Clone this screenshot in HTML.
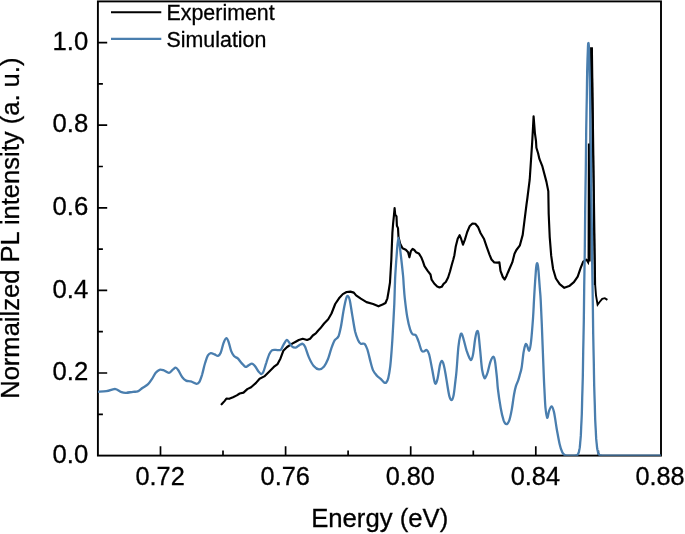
<!DOCTYPE html>
<html><head><meta charset="utf-8"><title>PL spectrum</title>
<style>
html,body{margin:0;padding:0;background:#fff;}
body{width:685px;height:534px;overflow:hidden;}
svg{display:block;}
text{font-family:"Liberation Sans",Arial,sans-serif;fill:#000;stroke:#000;stroke-width:0.3px;}
</style></head><body>
<svg width="685" height="534" viewBox="0 0 685 534">
<rect width="685" height="534" fill="#fff"/>
<rect x="97.9" y="1.4" width="563.1" height="454.2" fill="none" stroke="#000" stroke-width="1.9"/>
<path d="M160.5,455.6 v-9.3 M223.0,455.6 v-5.0 M285.6,455.6 v-9.3 M348.1,455.6 v-5.0 M410.7,455.6 v-9.3 M473.3,455.6 v-5.0 M535.8,455.6 v-9.3 M598.4,455.6 v-5.0 M97.9,414.3 h5.0 M97.9,373.0 h9.3 M97.9,331.7 h5.0 M97.9,290.4 h9.3 M97.9,249.1 h5.0 M97.9,207.8 h9.3 M97.9,166.5 h5.0 M97.9,125.2 h9.3 M97.9,83.9 h5.0 M97.9,42.6 h9.3" stroke="#000" stroke-width="1.7" fill="none"/>
<text transform="translate(160.1,485.2) scale(1,1.0)" font-size="25.3" text-anchor="middle">0.72</text>
<text transform="translate(285.2,485.2) scale(1,1.0)" font-size="25.3" text-anchor="middle">0.76</text>
<text transform="translate(410.3,485.2) scale(1,1.0)" font-size="25.3" text-anchor="middle">0.80</text>
<text transform="translate(535.4,485.2) scale(1,1.0)" font-size="25.3" text-anchor="middle">0.84</text>
<text transform="translate(660.0,485.2) scale(1,1.0)" font-size="25.3" text-anchor="middle">0.88</text>
<text transform="translate(88.3,462.7) scale(1,1.0)" font-size="25.7" text-anchor="end">0.0</text>
<text transform="translate(88.3,380.1) scale(1,1.0)" font-size="25.7" text-anchor="end">0.2</text>
<text transform="translate(88.3,297.5) scale(1,1.0)" font-size="25.7" text-anchor="end">0.4</text>
<text transform="translate(88.3,214.9) scale(1,1.0)" font-size="25.7" text-anchor="end">0.6</text>
<text transform="translate(88.3,132.3) scale(1,1.0)" font-size="25.7" text-anchor="end">0.8</text>
<text transform="translate(88.3,49.7) scale(1,1.0)" font-size="25.7" text-anchor="end">1.0</text>
<text transform="translate(379.7,527.0) scale(1,1.0)" font-size="25.7" text-anchor="middle">Energy (eV)</text>
<text transform="translate(18.8,228.2) rotate(-90) scale(1,1.0)" font-size="25.55" text-anchor="middle">Normailzed PL intensity (a. u.)</text>
<defs><clipPath id="pc"><rect x="97.9" y="1.4" width="563.1" height="454.4"/></clipPath></defs>
<g clip-path="url(#pc)">
<path d="M221.6,404.3 L224.5,401.1 L226.4,398.6 L229.2,398.8 L233.0,397.3 L236.8,395.4 L239.7,393.5 L243.5,392.6 L247.3,389.1 L251.1,387.2 L255.8,383.1 L259.6,378.7 L264.3,376.4 L269.1,371.7 L273.8,366.9 L277.6,364.1 L280.5,358.4 L283.3,350.8 L287.1,347.0 L292.2,343.6 L295.7,341.7 L298.8,340.0 L302.7,338.8 L307.1,340.0 L310.1,338.7 L312.8,335.5 L315.8,333.4 L318.0,330.7 L320.3,328.3 L324.1,323.5 L328.2,319.3 L331.5,313.5 L335.2,304.0 L339.0,298.3 L342.8,294.1 L346.6,292.0 L350.4,291.6 L353.8,292.6 L356.1,295.4 L360.8,298.7 L366.5,302.1 L373.1,304.0 L378.5,306.3 L382.6,304.5 L385.5,303.0 L387.4,298.3 L388.7,290.7 L390.0,282.3 L391.3,260.0 L391.9,244.9 L392.4,232.6 L393.1,223.6 L393.8,216.9 L394.6,208.0 L395.2,214.6 L396.5,216.3 L396.9,225.8 L398.0,228.1 L398.5,237.1 L400.2,243.8 L402.5,248.3 L405.8,249.7 L408.1,252.2 L409.4,257.3 L410.9,251.1 L412.6,248.9 L414.3,250.0 L416.0,252.2 L418.8,253.4 L421.2,257.2 L423.0,261.7 L424.5,266.2 L427.5,270.7 L430.5,274.5 L431.6,279.7 L434.2,283.5 L437.2,286.5 L439.5,287.4 L441.7,286.8 L443.6,283.8 L445.8,282.0 L448.1,277.5 L450.0,271.5 L451.8,264.7 L453.3,259.5 L454.4,255.2 L455.8,246.2 L457.7,238.7 L459.6,235.2 L461.1,238.7 L463.0,244.7 L464.9,239.6 L467.2,232.0 L469.6,226.3 L472.5,223.5 L475.3,223.8 L478.2,227.3 L480.5,233.0 L483.9,238.7 L486.7,246.8 L489.6,254.8 L491.5,259.5 L494.3,262.4 L497.2,262.6 L499.4,262.4 L500.5,270.9 L502.8,277.0 L504.7,279.5 L506.6,275.7 L509.4,269.0 L512.3,262.4 L514.5,253.8 L516.4,250.0 L519.9,245.3 L522.7,234.9 L524.6,219.7 L526.5,204.5 L527.4,198.0 L529.7,179.7 L531.3,155.6 L532.2,142.1 L533.0,127.5 L533.6,116.4 L534.9,133.1 L536.0,141.0 L536.4,147.7 L538.1,153.3 L539.4,158.9 L542.2,165.8 L546.4,181.6 L548.3,191.1 L548.7,214.0 L549.7,236.8 L551.2,255.7 L553.1,269.0 L555.9,278.5 L559.7,284.2 L564.3,287.8 L569.2,286.1 L573.9,282.2 L577.7,276.6 L580.6,268.1 L583.2,261.6 L586.3,259.6" fill="none" stroke="#000" stroke-width="2.15" stroke-linejoin="round" stroke-linecap="round"/>
<path d="M586.3,259.6 L588.2,262.7 L588.5,261.0 L588.8,143.5 L589.7,261.5 L591.0,48.3 L592.0,48.3 L595.2,285.0 L596.0,295.3 L597.6,304.6 L599.6,302.0 L602.2,298.9 L604.8,298.2 L607.4,299.9" fill="none" stroke="#000" stroke-width="1.9" stroke-linejoin="miter" stroke-linecap="butt"/>
<path d="M591.7,48.3 L594.75,285" fill="none" stroke="#000" stroke-width="1.9" stroke-linecap="butt"/>
<path d="M97.8,391.8 C99.2,391.7 103.7,391.6 106.4,391.2 C109.1,390.8 112.3,389.4 114.0,389.1 C115.7,388.8 115.5,389.0 116.8,389.5 C118.1,390.0 120.0,391.6 121.6,392.2 C123.2,392.8 124.4,392.9 126.3,392.8 C128.2,392.7 131.1,392.0 133.0,391.8 C134.9,391.6 136.1,392.0 137.7,391.4 C139.3,390.8 140.7,389.2 142.4,388.0 C144.1,386.8 146.5,385.7 148.1,384.2 C149.7,382.7 150.6,381.0 151.9,379.1 C153.2,377.2 154.4,374.4 155.7,372.8 C157.0,371.2 158.2,370.2 159.5,369.8 C160.8,369.4 161.7,369.7 163.3,370.2 C164.9,370.7 167.4,372.9 169.0,372.8 C170.6,372.7 171.7,370.5 172.8,369.6 C173.9,368.8 174.8,367.6 175.7,367.7 C176.6,367.8 177.4,368.9 178.5,370.5 C179.6,372.1 181.0,375.5 182.3,377.2 C183.6,378.9 184.7,379.9 186.1,380.6 C187.5,381.3 189.1,380.9 190.8,381.4 C192.5,381.9 195.1,383.7 196.5,383.8 C197.9,383.9 198.5,383.5 199.4,381.9 C200.3,380.3 201.2,377.4 202.2,374.3 C203.1,371.2 204.1,366.1 205.1,363.0 C206.1,359.9 206.9,357.0 207.9,355.4 C208.9,353.8 209.7,353.3 210.8,353.1 C211.9,352.9 213.4,353.9 214.6,354.4 C215.8,354.9 217.0,356.2 218.0,355.9 C219.0,355.6 219.8,354.8 220.7,352.7 C221.6,350.6 222.6,345.6 223.5,343.2 C224.4,340.8 225.5,338.2 226.4,338.1 C227.3,338.0 227.9,340.2 228.7,342.3 C229.5,344.4 230.2,348.5 231.1,350.8 C232.0,353.1 232.9,354.8 234.0,356.1 C235.1,357.4 236.5,357.2 237.8,358.4 C239.1,359.6 240.3,361.7 241.6,363.1 C242.9,364.5 244.3,366.5 245.4,366.9 C246.5,367.3 247.1,366.1 248.2,365.6 C249.3,365.1 250.9,363.6 252.0,363.7 C253.1,363.8 253.8,364.7 254.9,366.0 C256.0,367.3 257.6,370.4 258.7,371.7 C259.8,373.0 260.7,374.0 261.5,374.0 C262.3,374.0 262.6,373.5 263.4,371.7 C264.2,369.9 265.2,366.0 266.2,363.1 C267.1,360.2 268.2,356.7 269.1,354.6 C270.1,352.5 270.8,351.2 271.9,350.4 C273.0,349.6 274.3,350.0 275.7,349.9 C277.1,349.8 279.2,350.7 280.5,349.9 C281.8,349.1 282.3,346.8 283.3,345.1 C284.3,343.5 285.7,340.5 286.6,340.0 C287.6,339.5 288.1,341.2 289.0,342.3 C289.9,343.4 290.8,345.5 291.9,346.4 C293.0,347.3 294.4,347.8 295.7,347.6 C297.0,347.4 298.3,345.7 299.5,345.1 C300.7,344.5 301.8,343.5 302.7,343.8 C303.6,344.1 304.2,344.7 305.2,347.0 C306.2,349.3 307.5,354.2 308.9,357.4 C310.3,360.6 312.0,364.0 313.7,366.0 C315.4,368.0 317.3,369.3 319.0,369.4 C320.7,369.5 322.6,368.1 324.1,366.4 C325.6,364.7 326.7,362.2 327.9,359.3 C329.1,356.4 330.1,352.0 331.2,348.9 C332.3,345.8 333.4,342.4 334.6,340.4 C335.8,338.3 337.3,338.9 338.4,336.6 C339.4,334.3 340.0,331.3 340.9,326.8 C341.8,322.3 342.8,314.4 343.7,309.7 C344.6,304.9 345.5,300.6 346.2,298.3 C346.9,296.0 347.3,295.7 347.9,296.0 C348.5,296.3 349.1,297.0 349.8,300.2 C350.5,303.4 351.4,310.2 352.3,315.4 C353.2,320.6 354.2,327.4 355.1,331.5 C356.1,335.6 357.1,337.9 358.0,340.0 C358.9,342.1 359.7,343.2 360.8,343.8 C361.9,344.4 363.5,342.9 364.6,343.8 C365.7,344.8 366.4,346.6 367.4,349.5 C368.3,352.4 369.4,357.4 370.3,360.9 C371.2,364.4 372.0,367.9 373.1,370.4 C374.2,372.9 375.6,374.3 376.9,375.7 C378.2,377.1 379.4,377.7 380.7,378.9 C382.0,380.1 383.6,382.1 384.5,382.7 C385.4,383.2 385.8,383.0 386.4,382.2 C387.0,381.4 387.7,380.6 388.3,378.0 C388.9,375.4 389.6,371.4 390.2,366.6 C390.8,361.9 391.2,356.1 391.7,349.5 C392.2,342.9 392.7,334.4 393.1,326.8 C393.5,319.2 394.0,311.0 394.3,304.0 C394.6,297.0 394.7,289.8 394.9,285.0 C395.1,280.2 395.0,279.8 395.3,275.0 C395.6,270.2 396.1,262.2 396.6,256.0 C397.1,249.8 397.7,237.7 398.4,237.7 C399.1,237.7 400.1,249.8 400.9,256.0 C401.7,262.2 402.5,270.2 403.0,275.0 C403.5,279.8 403.4,281.1 403.7,285.0 C404.0,288.9 404.2,292.9 404.8,298.3 C405.4,303.7 406.4,312.1 407.3,317.3 C408.2,322.5 409.3,326.8 410.2,329.6 C411.1,332.4 411.7,333.4 412.6,334.3 C413.5,335.2 414.8,334.0 415.8,335.3 C416.8,336.6 417.8,339.4 418.7,341.9 C419.6,344.4 420.6,348.9 421.5,350.5 C422.4,352.1 423.1,351.5 424.0,351.4 C424.9,351.3 425.8,349.4 426.7,349.9 C427.6,350.4 428.2,351.2 429.1,354.3 C430.0,357.4 431.1,364.1 432.0,368.5 C432.9,372.9 433.7,378.3 434.3,380.8 C434.9,383.3 435.2,384.2 435.8,383.7 C436.4,383.2 437.0,381.2 437.7,378.0 C438.4,374.8 439.3,367.6 440.0,364.7 C440.7,361.8 441.3,360.9 441.9,360.9 C442.5,360.9 443.1,362.5 443.7,364.7 C444.3,366.9 445.0,370.6 445.6,374.2 C446.2,377.8 446.9,382.3 447.5,386.0 C448.1,389.7 448.8,394.3 449.5,396.6 C450.2,398.9 451.1,400.3 451.8,400.0 C452.5,399.7 453.1,397.7 453.7,394.7 C454.3,391.7 454.8,386.1 455.3,382.0 C455.8,377.9 456.1,375.9 456.6,370.0 C457.1,364.1 457.8,352.6 458.4,346.9 C459.0,341.1 459.7,337.6 460.3,335.5 C460.9,333.4 461.2,333.3 461.8,334.0 C462.4,334.7 462.9,336.9 463.7,339.7 C464.5,342.5 465.7,347.7 466.6,350.7 C467.6,353.7 468.6,356.4 469.4,357.9 C470.2,359.4 470.7,360.5 471.3,359.8 C471.9,359.1 472.6,357.0 473.2,353.6 C473.8,350.2 474.5,343.0 475.1,339.3 C475.7,335.6 476.4,332.3 477.0,331.4 C477.6,330.5 478.0,330.8 478.5,334.0 C479.0,337.2 479.6,344.8 480.2,350.7 C480.8,356.6 481.4,365.2 482.1,369.7 C482.8,374.2 483.7,376.5 484.3,377.8 C484.9,379.1 484.9,378.2 485.5,377.3 C486.1,376.4 486.8,375.0 487.6,372.5 C488.4,370.0 489.4,364.7 490.3,362.1 C491.2,359.5 492.3,357.0 493.1,356.8 C493.9,356.6 494.4,357.8 495.0,361.2 C495.6,364.6 496.4,372.7 496.9,377.3 C497.4,381.9 497.3,383.9 497.9,389.0 C498.5,394.1 499.8,402.8 500.7,408.0 C501.6,413.2 502.7,417.6 503.6,420.3 C504.6,423.0 505.4,424.1 506.4,424.1 C507.3,424.1 508.4,422.7 509.3,420.3 C510.2,417.9 510.9,414.2 511.7,409.9 C512.5,405.6 513.3,398.7 514.0,394.7 C514.7,390.7 515.2,388.5 515.9,386.1 C516.6,383.7 517.5,382.4 518.2,380.4 C518.9,378.3 519.5,375.9 520.1,373.8 C520.7,371.7 521.0,371.3 521.6,367.8 C522.2,364.3 522.9,356.5 523.5,352.6 C524.1,348.8 524.8,346.0 525.4,344.7 C526.0,343.4 526.3,344.0 526.9,345.0 C527.5,346.0 528.5,351.3 529.2,350.7 C529.9,350.1 530.5,346.6 531.1,341.2 C531.7,335.8 532.5,325.4 533.0,318.5 C533.5,311.6 533.7,305.1 534.0,300.0 C534.3,294.9 534.4,292.7 534.7,288.0 C535.0,283.3 535.5,275.7 535.8,272.0 C536.0,268.3 536.2,267.1 536.4,265.6 C536.6,264.1 536.9,263.2 537.1,263.2 C537.4,263.2 537.7,264.1 537.9,265.6 C538.1,267.1 538.3,268.3 538.6,272.0 C538.9,275.7 539.4,283.3 539.8,288.0 C540.1,292.7 540.4,294.0 540.7,300.0 C541.0,306.0 541.3,313.2 541.8,324.2 C542.2,335.2 543.0,355.1 543.4,365.9 C543.8,376.7 544.0,382.0 544.4,389.0 C544.8,396.0 545.0,403.2 545.5,408.0 C546.0,412.8 546.6,417.3 547.2,417.8 C547.8,418.3 548.4,412.7 549.1,410.8 C549.8,408.9 550.8,406.2 551.6,406.4 C552.4,406.6 553.0,408.1 553.9,411.8 C554.8,415.5 555.8,423.4 556.7,428.8 C557.7,434.2 558.7,440.0 559.6,444.0 C560.5,448.0 561.5,450.7 562.4,452.6 C563.3,454.5 564.0,454.8 565.3,455.3 C566.6,455.8 569.2,455.6 570.0,455.6 " fill="none" stroke="#4a7eae" stroke-width="2.3" stroke-linejoin="round"/>
<path d="M570,455.6 L574.0,455.6 L574.2,455.6 L574.5,455.6 L574.8,455.6 L575.0,455.6 L575.2,455.5 L575.5,455.5 L575.8,455.5 L576.0,455.5 L576.2,455.4 L576.5,455.3 L576.8,455.2 L577.0,455.1 L577.2,455.0 L577.5,454.7 L577.8,454.5 L578.0,454.1 L578.2,453.7 L578.5,453.1 L578.8,452.4 L579.0,451.4 L579.2,450.3 L579.5,448.9 L579.8,447.2 L580.0,445.1 L580.2,442.6 L580.5,439.5 L580.8,435.9 L581.0,431.7 L581.2,426.7 L581.5,420.9 L581.8,414.2 L582.0,406.6 L582.2,397.9 L582.5,388.1 L582.8,377.2 L583.0,365.1 L583.2,351.7 L583.5,337.2 L583.8,321.6 L584.0,304.8 L584.2,287.1 L584.5,268.5 L584.8,249.2 L585.0,229.4 L585.2,209.3 L585.5,189.1 L585.8,169.1 L586.0,149.7 L586.2,131.0 L586.5,113.5 L586.8,97.3 L587.0,82.8 L587.2,70.2 L587.5,59.8 L587.8,51.8 L588.0,46.2 L588.2,43.3 L588.5,43.0 L588.8,45.4 L589.0,50.5 L589.2,58.0 L589.5,68.0 L589.8,80.1 L590.0,94.3 L590.2,110.1 L590.5,127.4 L590.8,145.9 L591.0,165.2 L591.2,185.1 L591.5,205.2 L591.8,225.4 L592.0,245.3 L592.2,264.7 L592.5,283.5 L592.8,301.4 L593.0,318.3 L593.2,334.2 L593.5,348.9 L593.8,362.5 L594.0,374.9 L594.2,386.0 L594.5,396.0 L594.8,404.9 L595.0,412.8 L595.2,419.7 L595.5,425.6 L595.8,430.8 L596.0,435.2 L596.2,438.9 L596.5,442.0 L596.8,444.6 L597.0,446.8 L597.2,448.6 L597.5,450.0 L597.8,451.2 L598.0,452.2 L598.2,452.9 L598.5,453.6 L598.8,454.0 L599.0,454.4 L599.2,454.7 L599.5,454.9 L599.8,455.1 L600.0,455.2 L600.2,455.3 L600.5,455.4 L600.8,455.5 L601.0,455.5 L601.2,455.5 L601.5,455.5 L601.8,455.6 L602.0,455.6 L602.2,455.6 L602.5,455.6 L602.8,455.6 L603.0,455.6 L661.0,455.6" fill="none" stroke="#4a7eae" stroke-width="2.3" stroke-linejoin="round"/>
</g>
<path d="M111,12.3 H161.3" stroke="#000" stroke-width="2"/>
<path d="M111,38.9 H161.3" stroke="#4a7eae" stroke-width="2.1"/>
<text x="166.5" y="20" font-size="21.4">Experiment</text>
<text x="166.5" y="46.5" font-size="21.4">Simulation</text>
</svg></body></html>
